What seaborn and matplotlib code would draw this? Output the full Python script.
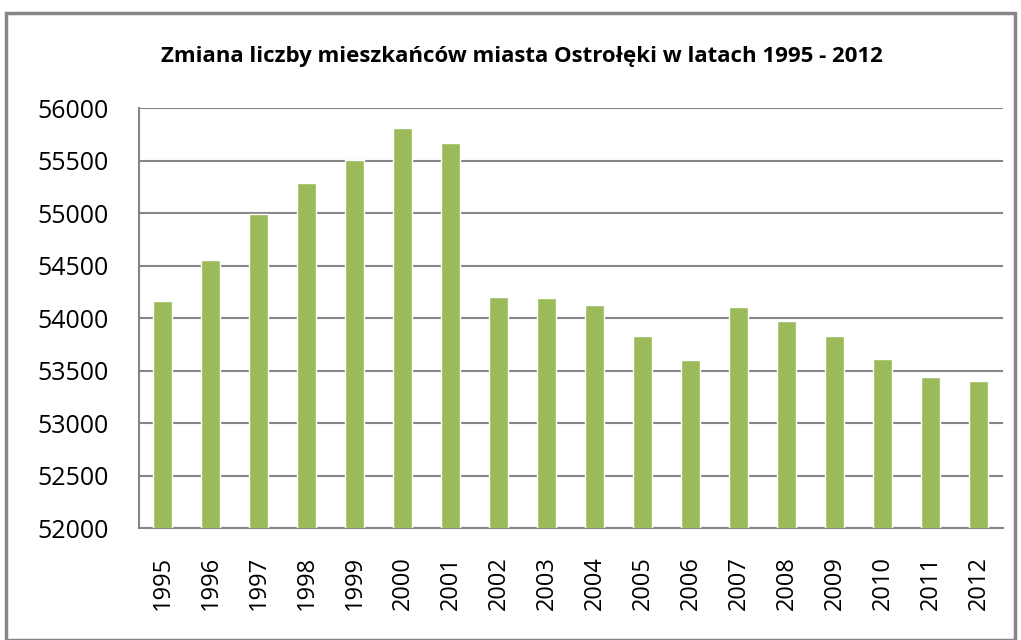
import matplotlib
matplotlib.use("Agg")
import matplotlib.pyplot as plt
import seaborn as sns
import pandas as pd
from matplotlib.patches import Rectangle

years = ["1995", "1996", "1997", "1998", "1999", "2000", "2001", "2002", "2003",
         "2004", "2005", "2006", "2007", "2008", "2009", "2010", "2011", "2012"]
population = [54165, 54557, 54990, 55283, 55503, 55807, 55665, 54204, 54195,
              54128, 53830, 53600, 54108, 53974, 53830, 53610, 53437, 53398]
yticks = [52000, 52500, 53000, 53500, 54000, 54500, 55000, 55500, 56000]

sns.set_style("white")
plt.rcParams['font.family'] = ['Open Sans', 'DejaVu Sans']
plt.rcParams['text.color'] = 'black'
plt.rcParams['xtick.color'] = 'black'
plt.rcParams['ytick.color'] = 'black'

df = pd.DataFrame({"year": years, "population": population})

fig = plt.figure(figsize=(10.21, 6.4), dpi=100)
ax = fig.add_axes([0.136, 0.175, 0.846, 0.656])

sns.barplot(data=df, x="year", y="population", color="#9BBB59",
            saturation=1, width=0.4, ax=ax, zorder=3)

ax.set_ylim(52000, 56000)
ax.set_yticks(yticks)
ax.set_yticklabels([str(v) for v in yticks], fontsize=18)
ax.set_xlim(-0.5, len(years) - 0.5)
ax.tick_params(axis="x", rotation=90, labelsize=17, length=0, pad=20)
ax.tick_params(axis="y", length=0, pad=22)
ax.yaxis.grid(True, color="#868686", linewidth=1.5, zorder=0)
ax.set_axisbelow(True)
ax.set_xlabel("")
ax.set_ylabel("")
for side in ["top", "right"]:
    ax.spines[side].set_visible(False)
for side in ["left", "bottom"]:
    ax.spines[side].set_color("#868686")
    ax.spines[side].set_linewidth(1.5)

# title sits centred on the whole chart, not on the plot area
ax.set_title("Zmiana liczby mieszkańców miasta Ostrołęki w latach 1995 - 2012",
             fontsize=16, fontweight="bold", pad=33, x=0.443, color="black")

# outer chart frame
fig.patches.append(Rectangle((0.006, 0.0), 0.988, 0.98, transform=fig.transFigure,
                             fill=False, edgecolor="#868686", linewidth=2.5))

fig.savefig("out.png", dpi=100)
